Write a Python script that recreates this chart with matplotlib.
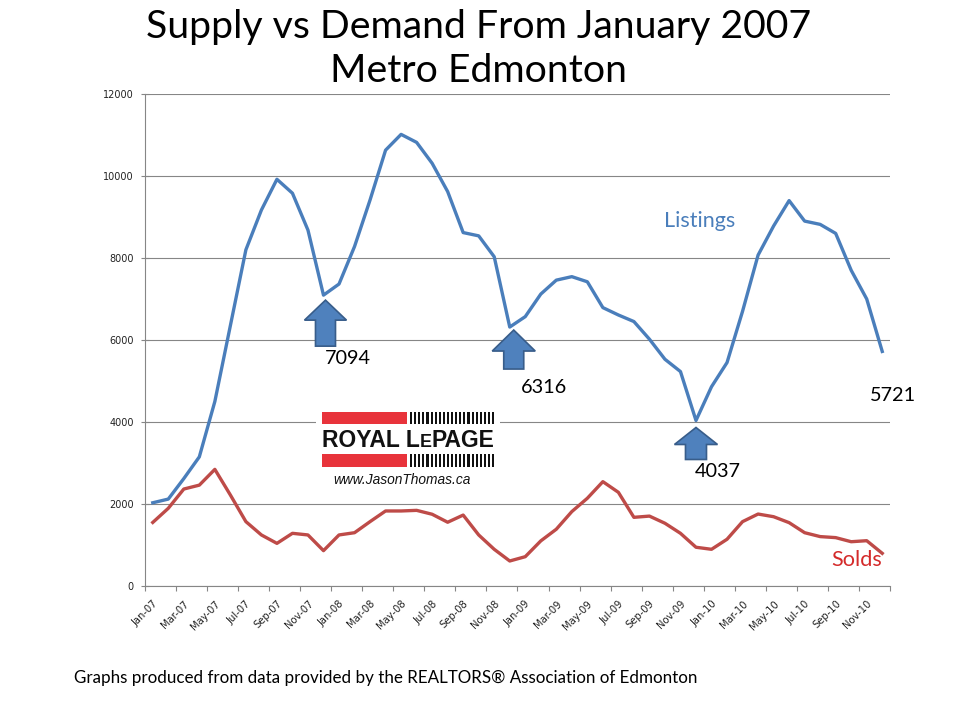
import numpy as np
import matplotlib
matplotlib.use('Agg')
import matplotlib.pyplot as plt
from matplotlib.patches import Polygon, Rectangle
from matplotlib.transforms import ScaledTranslation

# ---------------- data ----------------
month_abbr = ['Jan', 'Feb', 'Mar', 'Apr', 'May', 'Jun',
              'Jul', 'Aug', 'Sep', 'Oct', 'Nov', 'Dec']
years = ['07', '08', '09', '10']
months = [f'{m}-{y}' for y in years for m in month_abbr]

listings = [2030, 2120, 2620, 3150, 4500, 6350, 8200, 9170, 9920, 9580, 8680, 7094,
            7365, 8280, 9415, 10630, 11015, 10820, 10310, 9620, 8620, 8540, 8030, 6316,
            6570, 7120, 7460, 7545, 7420, 6790, 6610, 6450, 6020, 5530, 5230, 4037,
            4860, 5450, 6700, 8070, 8780, 9400, 8900, 8820, 8600, 7700, 7000, 5721]

solds = [1550, 1895, 2365, 2460, 2845, 2220, 1570, 1245, 1040, 1285, 1245, 862,
         1245, 1300, 1570, 1830, 1830, 1845, 1750, 1555, 1730, 1245, 895, 610,
         715, 1100, 1385, 1815, 2140, 2545, 2285, 1675, 1705, 1530, 1285, 945,
         895, 1140, 1570, 1755, 1690, 1545, 1300, 1205, 1180, 1080, 1105, 797]

y_ticks = [0, 2000, 4000, 6000, 8000, 10000, 12000]

callout_idx = [11, 23, 35, 47]
callout_text = ['7094', '6316', '4037', '5721']

title_lines = ['Supply vs Demand From January 2007', 'Metro Edmonton']
footnote = 'Graphs produced from data provided by the REALTORS\u00ae Association of Edmonton'

# ---------------- figure ----------------
W, H, DPI = 960, 720, 100
fig = plt.figure(figsize=(W / DPI, H / DPI), dpi=DPI)
fig.patch.set_facecolor('white')


def px_rect(l, t, r, b):
    return [l / W, 1 - b / H, (r - l) / W, (b - t) / H]


BLUE = '#4A7EBB'
RED = '#BE4B48'
GRID = '#868686'

ax = fig.add_axes(px_rect(145, 94, 890, 586))
x = np.arange(len(months))
ax.plot(x, listings, color=BLUE, lw=2.4, solid_joinstyle='round', zorder=3)
ax.plot(x, solds, color=RED, lw=2.4, solid_joinstyle='round', zorder=3)

ax.set_xlim(-0.5, len(months) - 0.5)
ax.set_ylim(0, 12000)
ax.set_yticks(y_ticks)
ax.set_yticklabels([str(v) for v in y_ticks], fontsize=7, family='DejaVu Sans', color='#222222')
ax.yaxis.grid(True, color=GRID, lw=0.8)
ax.set_axisbelow(True)
for s in ['top', 'right']:
    ax.spines[s].set_visible(False)
for s in ['left', 'bottom']:
    ax.spines[s].set_color(GRID)
    ax.spines[s].set_linewidth(0.8)

ax.set_xticks(np.arange(-0.5, len(months), 2))
ax.set_xticklabels([])
ax.set_xticks(x[::2], minor=True)
ax.set_xticklabels(months[::2], minor=True, rotation=45, ha='right', va='top',
                   rotation_mode='anchor', fontsize=7.2, family='DejaVu Sans', color='#222222')
ax.tick_params(axis='x', which='minor', length=0, pad=9)
ax.tick_params(axis='x', which='major', direction='out', length=3.5, color=GRID, width=0.8)
ax.tick_params(axis='y', direction='inout', length=6, color=GRID, width=0.8, pad=5)

# ---------------- block arrows (anchored to data points) ----------------
ARROW_FC = '#4F81BD'
ARROW_EC = '#385D8A'


def up_arrow(xi, yv, dx, dy, head_h, total_h, head_w, shaft_w):
    tr = fig.dpi_scale_trans + ScaledTranslation(xi, yv, ax.transData)
    s = 1.0 / DPI
    tipx, tipy = dx, -dy
    verts = [
        (tipx, tipy),
        (tipx + head_w / 2, tipy - head_h),
        (tipx + shaft_w / 2, tipy - head_h),
        (tipx + shaft_w / 2, tipy - total_h),
        (tipx - shaft_w / 2, tipy - total_h),
        (tipx - shaft_w / 2, tipy - head_h),
        (tipx - head_w / 2, tipy - head_h),
    ]
    verts = [(a * s, b * s) for a, b in verts]
    p = Polygon(verts, closed=True, transform=tr, facecolor=ARROW_FC,
                edgecolor=ARROW_EC, lw=1.2, zorder=5, clip_on=False)
    ax.add_patch(p)


up_arrow(callout_idx[0], listings[callout_idx[0]], 2, 5, 20, 46, 42, 20)
up_arrow(callout_idx[1], listings[callout_idx[1]], 4, 3, 21, 39, 43, 20)
up_arrow(callout_idx[2], listings[callout_idx[2]], 0, 7, 17, 32, 43, 21)

# value call-outs
offsets = [(1, -69), (11.5, -66), (-1.5, -57), (-12, -50)]
for i, t, off in zip(callout_idx, callout_text, offsets):
    ax.annotate(t, xy=(i, listings[i]), xycoords='data', xytext=off,
                textcoords='offset pixels', ha='left', va='baseline',
                fontsize=14.3, family='Lato', color='black', zorder=6,
                annotation_clip=False)

# ---------------- overlay (pixel coordinates) ----------------
ov = fig.add_axes([0, 0, 1, 1])
ov.set_xlim(0, W)
ov.set_ylim(H, 0)
ov.axis('off')
ov.patch.set_visible(False)

renderer = fig.canvas.get_renderer()


def text_width(t):
    return t.get_window_extent(renderer=renderer).width


def fit_text(xp, yp, s, width, base_size, ha='left', **kw):
    t = ov.text(xp, yp, s, fontsize=base_size, ha=ha, va='baseline', **kw)
    w = text_width(t)
    t.set_fontsize(base_size * width / w)
    return t


# title
t1 = fit_text(479, 38, title_lines[0], 666, 30, ha='center', family='Lato', color='black')
ov.text(479, 82, title_lines[1], fontsize=t1.get_fontsize(), ha='center', va='baseline',
        family='Lato', color='black')

# series labels
fit_text(664, 227, 'Listings', 71, 15, family='Lato', color=BLUE)
fit_text(831, 566.5, 'Solds', 51, 15, family='Lato', color='#D42A2A')

# footnote
fit_text(74, 682.5, footnote, 620, 12, family='Lato', color='black')

# logo
ov.add_patch(Rectangle((316, 405), 184, 88, facecolor='white', edgecolor='none', zorder=1))
for ytop in (411.7, 454.3):
    ov.add_patch(Rectangle((321.7, ytop), 85, 12.5, facecolor='#E8333B', edgecolor='none', zorder=2))
    for k in range(21):
        ov.add_patch(Rectangle((410 + k * 4.1, ytop), 2.1, 12.5, facecolor='#111111',
                               edgecolor='none', zorder=2))

# "ROYAL LEPAGE" with small-cap E
fs_big = 15
pieces = [('ROYAL L', 1.0), ('E', 0.78), ('PAGE', 1.0)]
tmp = []
for s, f in pieces:
    tt = ov.text(0, 0, s, fontsize=fs_big * f, fontweight='bold', family='Liberation Sans')
    tmp.append(text_width(tt))
    tt.remove()
total = sum(tmp)
scale = (495 - 321.7) / total
xcur = 321.7
for (s, f), w in zip(pieces, tmp):
    ov.text(xcur, 447.3, s, fontsize=fs_big * f * scale, fontweight='bold',
            family='Liberation Sans', va='baseline', ha='left', color='#111111', zorder=3)
    xcur += w * scale

fit_text(333.3, 484, 'www.JasonThomas.ca', 137.7, 9, family='Liberation Sans',
         style='italic', color='#111111')

fig.savefig('out.png', dpi=DPI, facecolor='white')
